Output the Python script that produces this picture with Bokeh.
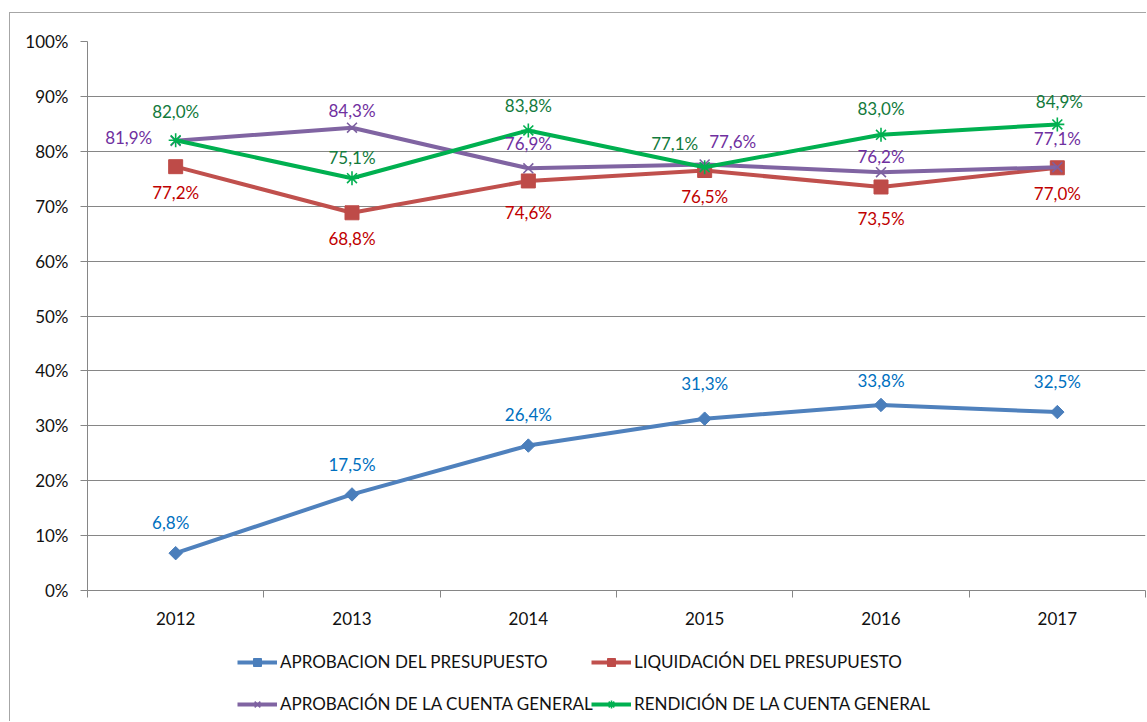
from bokeh.plotting import figure
from bokeh.layouts import column
from bokeh.models import Range1d, FixedTicker, Legend, LegendItem, ColumnDataSource
from bokeh.core.properties import value
from bokeh.embed import file_html
from bokeh.resources import INLINE
import numpy as np

# ---------------- data ----------------
years = ["2012", "2013", "2014", "2015", "2016", "2017"]
aprobacion_presupuesto = [6.8, 17.5, 26.4, 31.3, 33.8, 32.5]
liquidacion_presupuesto = [77.2, 68.8, 74.6, 76.5, 73.5, 77.0]
aprobacion_cuenta = [81.9, 84.3, 76.9, 77.6, 76.2, 77.1]
rendicion_cuenta = [82.0, 75.1, 83.8, 77.1, 83.0, 84.9]
series_names = [
    "APROBACION DEL PRESUPUESTO",
    "LIQUIDACIÓN DEL PRESUPUESTO",
    "APROBACIÓN DE LA CUENTA GENERAL",
    "RENDICIÓN DE LA CUENTA GENERAL",
]
y_ticks = list(range(0, 101, 10))
y_tick_labels = [f"{t}%" for t in y_ticks]

# ---------------- styles ----------------
FONT = "Lato"
line_colors = ["#4f81bd", "#c0504d", "#8064a2", "#00b050"]
marker_colors = ["#4a7ebb", "#be4b48", "#7d60a0", "#00b050"]
label_colors = ["#0070c0", "#c00000", "#7030a0", "#127a3c"]
# label offsets (dx, dy) in screen pixels
label_dx = [
    [-5, 0, 0, 0, 0, 0],
    [0, 0, 0, 0, 0, 0],
    [-47, 0, 0, 28, 0, 0],
    [0, 0, 0, -30, 0, 2],
]
label_dy = [
    [-31, -30, -31, -35, -24, -31],
    [26, 26, 32, 26, 32, 26],
    [-3, -17, -25, -23, -16, -29],
    [-29, -21, -25, -24, -26, -23],
]
# legend entry positions (frame-relative screen offsets of the legend strip)
legend_locs = [(150, 49), (504, 49), (150, 7), (504, 7)]
GRID = "#868686"
BORDER = "1px solid #a6a6a6"

xs = [i + 0.5 for i in range(len(years))]

p = figure(
    width=1137, height=627,
    x_range=Range1d(0, len(years)), y_range=Range1d(0, 100),
    output_backend="svg", toolbar_location=None,
    min_border_left=77, min_border_right=2, min_border_top=28, min_border_bottom=50,
    margin=(12, 0, 0, 9),
    styles={"border-top": BORDER, "border-left": BORDER},
)
p.outline_line_color = None
p.background_fill_color = "white"
p.border_fill_color = "white"

# axes
p.xaxis.ticker = FixedTicker(ticks=xs, minor_ticks=list(range(len(years) + 1)))
p.xaxis.major_label_overrides = {x: y for x, y in zip(xs, years)}
p.xaxis.major_tick_out = 0
p.xaxis.major_tick_in = 0
p.xaxis.minor_tick_out = 7
p.xaxis.minor_tick_in = 0
p.xaxis.minor_tick_line_color = GRID
p.xaxis.axis_line_color = GRID
p.xaxis.major_label_standoff = 14

p.yaxis.ticker = FixedTicker(ticks=y_ticks)
p.yaxis.major_label_overrides = {t: l for t, l in zip(y_ticks, y_tick_labels)}
p.yaxis.major_tick_out = 7
p.yaxis.major_tick_in = 0
p.yaxis.minor_tick_line_color = None
p.yaxis.major_tick_line_color = GRID
p.yaxis.axis_line_color = GRID
p.yaxis.major_label_standoff = 12

for ax in (p.xaxis, p.yaxis):
    ax.major_label_text_font = FONT
    ax.major_label_text_font_size = "17px"
    ax.major_label_text_color = "#111111"

p.xgrid.grid_line_color = None
p.ygrid.ticker = FixedTicker(ticks=y_ticks)
p.ygrid.grid_line_color = GRID
p.ygrid.grid_line_width = 1

all_series = [aprobacion_presupuesto, liquidacion_presupuesto, aprobacion_cuenta, rendicion_cuenta]
markers = ["square", "square", "x", "asterisk"]
marker_sizes = [9.5, 14, 14, 14]
marker_angles = [np.pi / 4, 0, 0, 0]


def draw_series(fig, i, src):
    lr = fig.line("x", "y", source=src, line_color=line_colors[i], line_width=4)
    if markers[i] in ("x", "asterisk"):
        sr = fig.scatter("x", "y", source=src, marker=markers[i], size=marker_sizes[i],
                         line_color=marker_colors[i], line_width=1.6)
    else:
        sr = fig.scatter("x", "y", source=src, marker=markers[i], size=marker_sizes[i],
                         angle=marker_angles[i], fill_color=marker_colors[i],
                         line_color=marker_colors[i])
    return lr, sr


for i, vals in enumerate(all_series):
    draw_series(p, i, ColumnDataSource(dict(x=xs, y=vals)))

for i, vals in enumerate(all_series):
    lsrc = ColumnDataSource(dict(
        x=xs, y=vals,
        t=[f"{v:.1f}%".replace(".", ",") for v in vals],
        dx=label_dx[i], dy=label_dy[i],
    ))
    p.text("x", "y", text="t", source=lsrc, x_offset="dx", y_offset="dy",
           text_align="center", text_baseline="middle",
           text_font=value(FONT), text_font_size="17px", text_color=label_colors[i])

# ---------------- legend strip ----------------
q = figure(
    width=1137, height=82,
    x_range=Range1d(0, 1137), y_range=Range1d(0, 82),
    output_backend="svg", toolbar_location=None,
    min_border_left=0, min_border_right=0, min_border_top=0, min_border_bottom=0,
    margin=(0, 0, 0, 9),
    styles={"border-left": BORDER},
)
q.axis.visible = False
q.grid.visible = False
q.outline_line_color = None
q.background_fill_color = "white"
q.border_fill_color = "white"

for i in range(len(all_series)):
    # proxy renderers (off-screen) used only for the legend swatches
    lr, sr = draw_series(q, i, ColumnDataSource(dict(x=[-5000, -4000], y=[-5000, -5000])))
    leg = Legend(
        items=[LegendItem(label=series_names[i], renderers=[lr, sr])],
        location=legend_locs[i],
        padding=0, margin=0, spacing=0,
        glyph_width=40, glyph_height=20, label_height=20, label_standoff=3,
        label_text_font=FONT, label_text_font_size="17px", label_text_color="#111111",
        border_line_color=None, background_fill_alpha=0,
    )
    q.add_layout(leg, "center")

layout = column(p, q, spacing=0)
open("out.html", "w").write(file_html(layout, INLINE))
